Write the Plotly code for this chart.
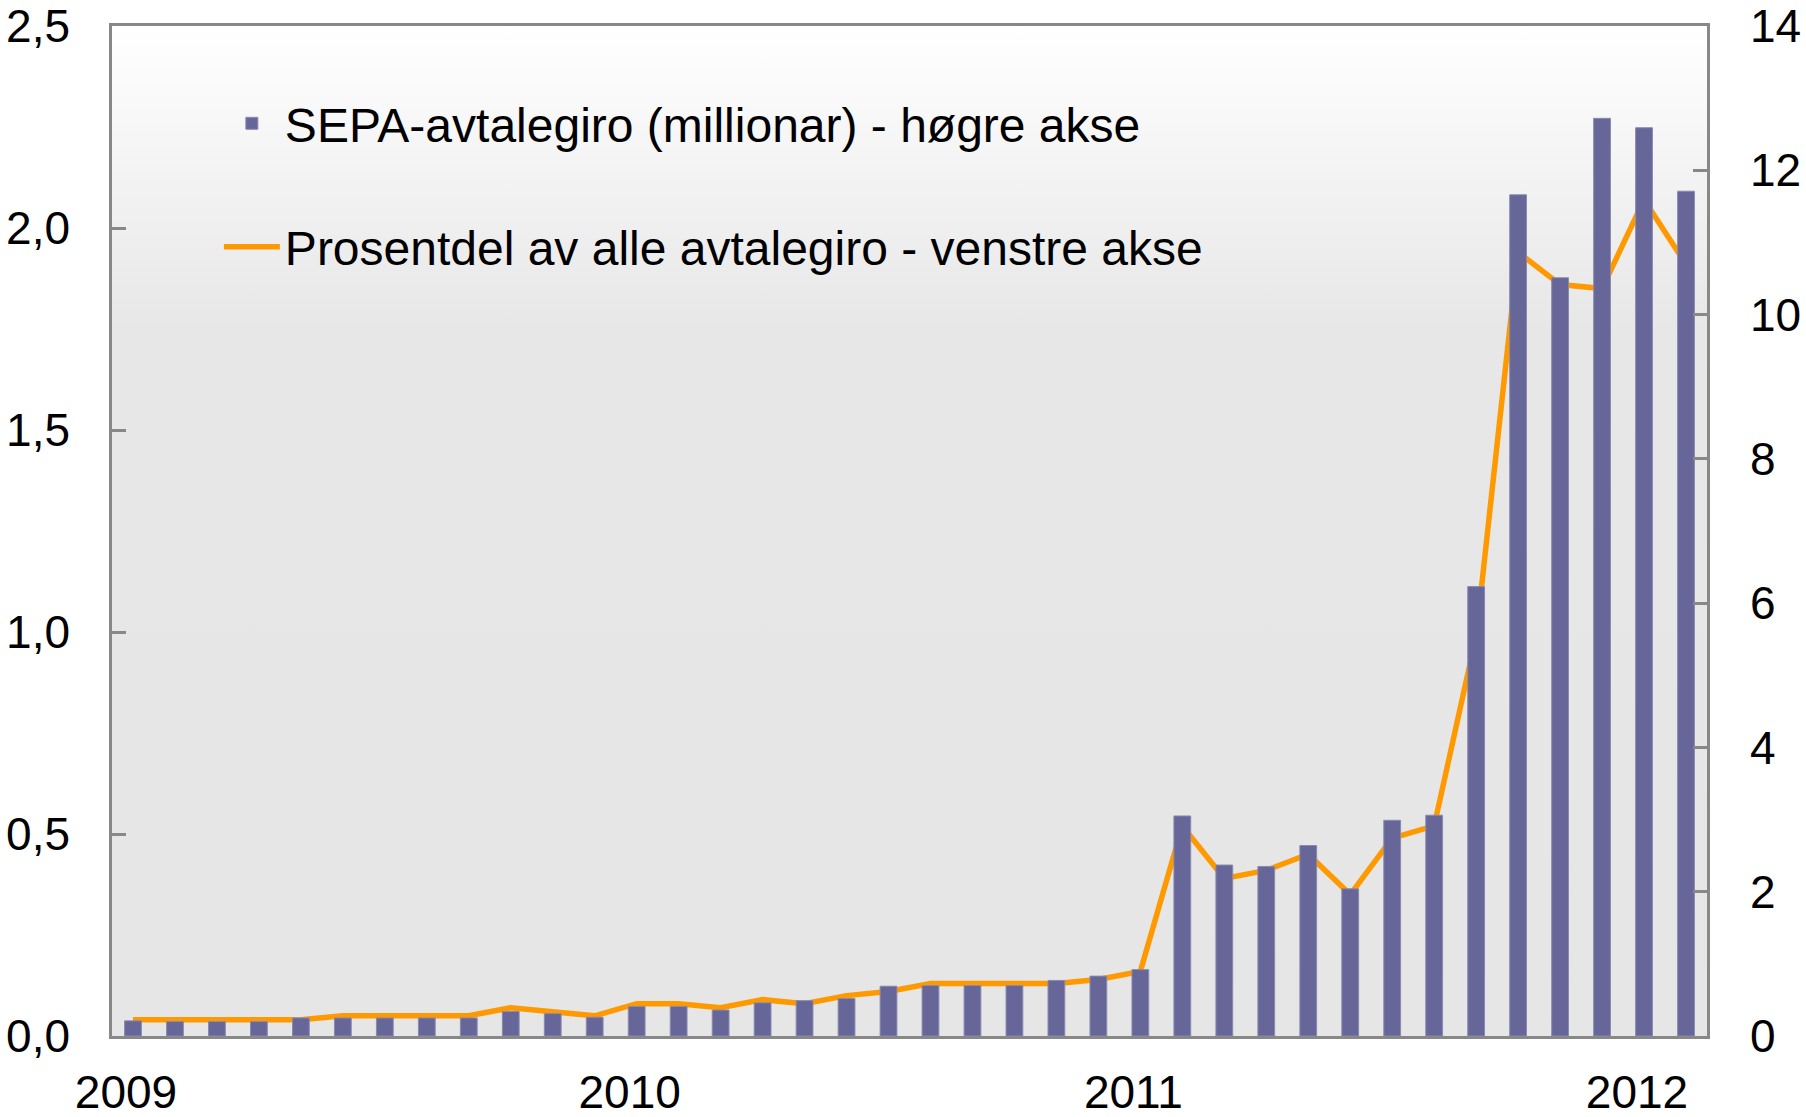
import base64
import plotly.graph_objects as go

# ---- data ----
month_names = ["jan", "feb", "mar", "apr", "mai", "jun", "jul", "aug", "sep", "okt", "nov", "des"]
years = [2009, 2010, 2011, 2012]
months = [f"{m} {y}" for y in years for m in month_names][:38]   # jan 2009 .. feb 2012

year_ticks = ["jan 2009", "jan 2010", "jan 2011", "jan 2012"]
year_labels = ["2009", "2010", "2011", "2012"]
year_bounds = [11.5, 23.5, 35.5]

# SEPA-avtalegiro (millionar) - right axis
sepa_mill = [0.21, 0.20, 0.20, 0.20, 0.25, 0.25, 0.25, 0.25, 0.25, 0.34, 0.31, 0.26,
             0.41, 0.41, 0.36, 0.46, 0.49, 0.52, 0.69, 0.70, 0.70, 0.70, 0.77, 0.83,
             0.92, 3.05, 2.37, 2.35, 2.64, 2.04, 2.99, 3.06, 6.23, 11.66, 10.51, 12.72,
             12.59, 11.71]

# Prosentdel av alle avtalegiro - left axis
prosent = [0.04, 0.04, 0.04, 0.04, 0.04, 0.05, 0.05, 0.05, 0.05, 0.07, 0.06, 0.05,
           0.08, 0.08, 0.07, 0.09, 0.08, 0.10, 0.11, 0.13, 0.13, 0.13, 0.13, 0.14,
           0.16, 0.52, 0.39, 0.41, 0.45, 0.35, 0.49, 0.52, 0.99, 1.94, 1.86, 1.85,
           2.07, 1.91]

left_ticks = [0, 0.5, 1.0, 1.5, 2.0, 2.5]
right_ticks = [0, 2, 4, 6, 8, 10, 12, 14]

# ---- styling ----
FONT = "Liberation Sans, Arial, sans-serif"
GREY = "#888888"
BAR_COLOR = "#666699"
LINE_COLOR = "#FF9900"

svg = ("<svg xmlns='http://www.w3.org/2000/svg' width='100' height='100' preserveAspectRatio='none'>"
       "<defs><linearGradient id='g' x1='0' y1='0' x2='0' y2='1'>"
       "<stop offset='0' stop-color='#ffffff'/><stop offset='0.30' stop-color='#e7e7e7'/>"
       "<stop offset='1' stop-color='#e6e6e6'/></linearGradient></defs>"
       "<rect width='100' height='100' fill='url(#g)'/></svg>")
bg_uri = "data:image/svg+xml;base64," + base64.b64encode(svg.encode()).decode()

fig = go.Figure()
fig.add_trace(go.Bar(
    x=months, y=sepa_mill, yaxis="y2", xaxis="x",
    name="SEPA-avtalegiro (millionar) - høgre akse",
    marker=dict(color=BAR_COLOR, line=dict(color="#8a8ab0", width=1)),
    legendgroup="a",
))
fig.add_trace(go.Scatter(
    x=months, y=prosent, yaxis="y", xaxis="x",
    mode="lines", name="Prosentdel av alle avtalegiro - venstre akse",
    line=dict(color=LINE_COLOR, width=5.5),
    legendgroup="b",
))

fig.update_layout(
    width=1806, height=1117,
    margin=dict(l=112, r=99, t=26, b=81, autoexpand=False),
    paper_bgcolor="white",
    plot_bgcolor="rgba(0,0,0,0)",
    separators=", ",
    font=dict(family=FONT, size=46, color="black"),
    bargap=0.6,
    showlegend=True,
    legend=dict(
        x=0.067, y=0.941, xanchor="left", yanchor="top",
        bgcolor="rgba(0,0,0,0)",
        font=dict(family=FONT, size=48, color="black"),
        traceorder="grouped", tracegroupgap=58,
        itemwidth=56,
    ),
    images=[dict(source=bg_uri, xref="paper", yref="paper", x=0, y=1,
                 sizex=1, sizey=1, xanchor="left", yanchor="top",
                 sizing="stretch", layer="below")],
    xaxis=dict(
        type="category", categoryorder="array", categoryarray=months,
        range=[-0.5, 37.5], automargin=False,
        tickmode="array", tickvals=year_ticks, ticktext=year_labels,
        ticks="", showgrid=False, zeroline=False,
        showline=True, linecolor=GREY, linewidth=2.5, mirror=True,
        ticklabelstandoff=14, ticklabelshift=-7, ticklabeloverflow="allow",
        tickfont=dict(family=FONT, size=46),
    ),
    xaxis2=dict(
        overlaying="x", anchor="y", side="bottom", type="linear",
        range=[-0.5, 37.5], automargin=False,
        tickmode="array", tickvals=year_bounds,
        ticks="inside", ticklen=13, tickwidth=2.5, tickcolor=GREY,
        showticklabels=False, showgrid=False, zeroline=False, showline=False,
    ),
    yaxis=dict(
        range=[0, 2.5], tickmode="array", tickvals=left_ticks, tickformat=".1f",
        automargin=False,
        ticks="inside", ticklen=14, tickwidth=2.5, tickcolor=GREY,
        showgrid=False, zeroline=False,
        showline=True, linecolor=GREY, linewidth=2.5, mirror=True,
        ticklabelstandoff=30, ticklabeloverflow="allow",
        tickfont=dict(family=FONT, size=46),
    ),
    yaxis2=dict(
        range=[0, 14], tickmode="array", tickvals=right_ticks,
        overlaying="y", side="right", anchor="x", automargin=False,
        ticks="inside", ticklen=14, tickwidth=2.5, tickcolor=GREY,
        showgrid=False, zeroline=False,
        showline=True, linecolor=GREY, linewidth=2.5,
        ticklabelstandoff=31, ticklabeloverflow="allow",
        tickfont=dict(family=FONT, size=46),
    ),
)

# remove the browser's default 8px body margin so the figure fills the window exactly
fig.write_html("out.html", config={"displayModeBar": False},
               post_script="document.body.style.margin='0px';")
